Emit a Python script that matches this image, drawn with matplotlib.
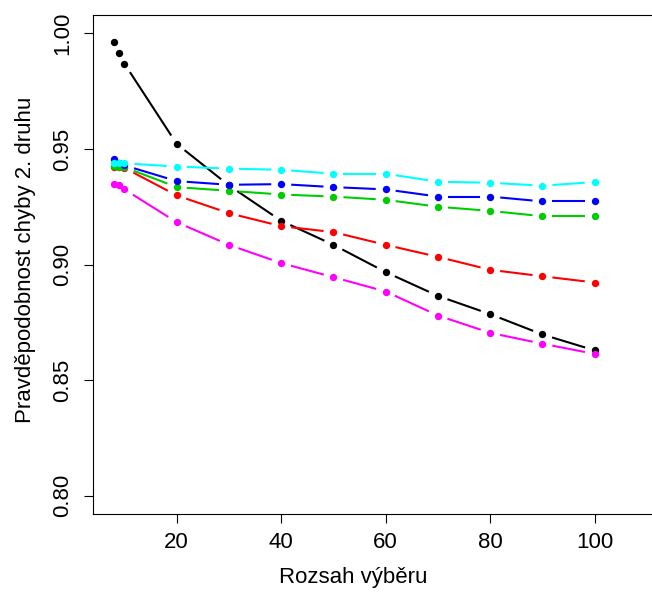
import matplotlib
matplotlib.use('Agg')
import matplotlib.pyplot as plt
import numpy as np

plt.rcParams['font.family'] = ['Liberation Sans', 'DejaVu Sans']

# sample sizes
n = [8, 9, 10, 20, 30, 40, 50, 60, 70, 80, 90, 100]

# probability of type II error for each curve
p_black = [0.9962, 0.9915, 0.9869, 0.9522, 0.9342, 0.9189, 0.9085, 0.8967, 0.8864, 0.8785, 0.8697, 0.8628]
p_red = [0.9421, 0.9421, 0.9418, 0.9299, 0.9222, 0.9166, 0.9140, 0.9085, 0.9033, 0.8977, 0.8949, 0.8922]
p_green = [0.9426, 0.9421, 0.9421, 0.9335, 0.9319, 0.9303, 0.9294, 0.9280, 0.9250, 0.9232, 0.9209, 0.9209]
p_blue = [0.9457, 0.9439, 0.9429, 0.9361, 0.9345, 0.9348, 0.9335, 0.9325, 0.9294, 0.9294, 0.9273, 0.9273]
p_cyan = [0.9440, 0.9438, 0.9438, 0.9424, 0.9415, 0.9410, 0.9393, 0.9393, 0.9358, 0.9354, 0.9341, 0.9357]
p_magenta = [0.9349, 0.9346, 0.9325, 0.9183, 0.9085, 0.9006, 0.8945, 0.8883, 0.8779, 0.8704, 0.8657, 0.8613]

series = [(p_black, 'black'), (p_red, '#FF0000'), (p_green, '#00CD00'),
          (p_blue, '#0000FF'), (p_cyan, '#00FFFF'), (p_magenta, '#FF00FF')]

W, H = 652, 595
fig = plt.figure(figsize=(W / 100, H / 100), dpi=100)
ax = fig.add_axes([92.7 / W, (H - 514) / H, 575.6 / W, 499 / H])
ax.set_xlim(3.92, 114.08)
ax.set_ylim(0.792, 1.008)


def plot_b(x, y, color, gap=10):
    # R style type="b": points plus line segments that stop short of each point
    pts = ax.transData.transform(np.column_stack([x, y]))
    inv = ax.transData.inverted()
    for a, b in zip(pts[:-1], pts[1:]):
        d = b - a
        L = np.hypot(*d)
        if L <= 2 * gap:
            continue
        u = d / L
        seg = inv.transform(np.array([a + u * gap, b - u * gap]))
        ax.plot(seg[:, 0], seg[:, 1], color=color, lw=1.5, solid_capstyle='butt')
    ax.plot(x, y, 'o', color=color, ms=5.3, mew=0)


for vals, c in series:
    plot_b(n, vals, c)

ax.set_xticks([20, 40, 60, 80, 100])
ax.set_yticks([0.80, 0.85, 0.90, 0.95, 1.00])
ax.set_yticklabels(['0.80', '0.85', '0.90', '0.95', '1.00'], rotation=90, va='center')
ax.tick_params(axis='both', labelsize=16, length=6.8, width=0.8, direction='out')
ax.tick_params(axis='x', pad=5.8)
ax.tick_params(axis='y', pad=7)
for s in ax.spines.values():
    s.set_linewidth(0.8)

ax.set_xlabel('Rozsah výběru', fontsize=16, va='baseline')
ax.xaxis.set_label_coords(352.7 / W, (H - 582.5) / H, transform=fig.transFigure)
ax.set_ylabel('Pravděpodobnost chyby 2. druhu', fontsize=16, va='baseline')
ax.yaxis.set_label_coords(31 / W, (H - 260) / H, transform=fig.transFigure)

fig.savefig('out.png', dpi=100)
